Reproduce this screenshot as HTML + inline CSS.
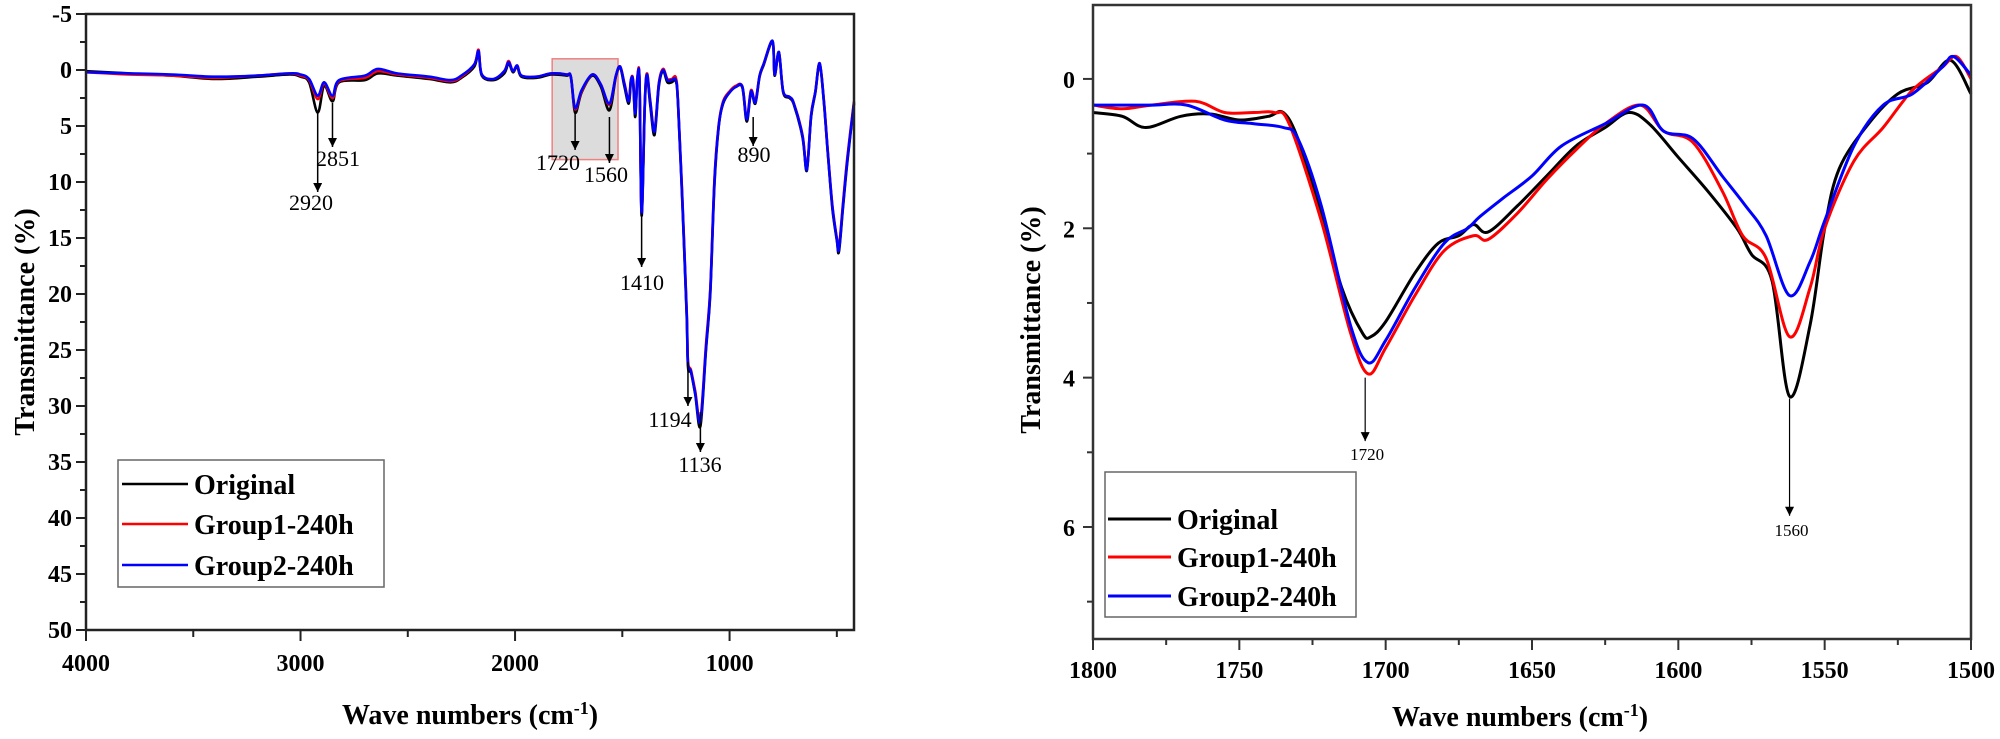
<!DOCTYPE html>
<html><head><meta charset="utf-8"><style>
html,body{margin:0;padding:0;background:#fff;}
svg{display:block;}
text{font-family:"Liberation Serif",serif;}
.tk{font-size:24px;font-weight:bold;}
.ttl{font-size:28px;font-weight:bold;}
.ann{font-size:22px;}
.ann2{font-size:17px;}
.lg{font-size:28px;font-weight:bold;}
</style></head><body>
<svg id="chart" width="2000" height="739" viewBox="0 0 2000 739" xmlns="http://www.w3.org/2000/svg">
<defs><marker id="ah" viewBox="0 0 10 10" refX="10" refY="5" markerWidth="14" markerHeight="9" markerUnits="userSpaceOnUse" orient="auto"><path d="M0,0 L10,5 L0,10 z" fill="#000"/></marker></defs>
<g id="left"></g>
<g id="right"></g>
</svg>
<script>
// ---- Left panel data ----
const leftWave = [4000,3800,3600,3400,3200,3050,3000,2960,2920,2890,2851,2820,2700,2640,2550,2400,2300,2250,2190,2170,2155,2100,2050,2030,2010,1990,1970,1900,1830,1760,1740,1720,1690,1640,1600,1560,1530,1510,1490,1470,1460,1450,1440,1430,1420,1410,1395,1385,1370,1350,1330,1310,1290,1270,1250,1240,1220,1200,1194,1180,1160,1136,1110,1090,1070,1050,1030,1000,970,940,920,900,880,860,840,800,790,770,750,720,700,660,640,620,600,580,560,540,520,500,490,470,450,420];
const leftOriginal = [0.1,0.3,0.5,0.8,0.6,0.4,0.6,1.1,3.8,1.4,2.8,1.1,0.9,0.3,0.5,0.8,1.1,0.7,-0.3,-1.6,0.5,0.9,0.3,-0.6,0.2,-0.3,0.6,0.7,0.4,0.5,0.6,3.8,2.0,0.5,1.5,3.6,0.6,-0.2,1.5,3.0,1.1,1.0,4.2,0.9,1.0,13,3.2,0.5,3.1,5.8,1.5,0.1,1.1,1.1,1.0,3.2,12,22,26.5,27,29,31.8,25,20,10,5,3,2,1.5,1.6,4.6,2.0,3.0,0.6,-0.5,-2.5,0.5,-1.5,2.0,2.5,3.1,6.0,9.0,4.2,2.0,-0.5,3.0,8.0,12.5,15.2,16.2,12,8,3];
const leftGroup1 = [0.2,0.4,0.5,0.7,0.5,0.3,0.5,0.9,2.6,1.2,2.5,1.0,0.7,0.1,0.4,0.7,1.0,0.6,-0.5,-1.8,0.4,0.8,0.1,-0.8,0.1,-0.4,0.5,0.6,0.3,0.4,0.6,3.5,1.9,0.4,1.3,3.1,0.5,-0.3,1.2,2.7,0.9,0.8,3.8,0.7,0.8,12.6,2.9,0.3,2.7,5.4,1.2,-0.1,0.8,0.8,0.7,3.0,11.5,21.5,26,26.8,28.7,31.2,24.5,19.5,9.5,4.8,2.8,1.9,1.4,1.5,4.3,1.8,2.8,0.5,-0.6,-2.6,0.4,-1.6,1.9,2.4,3.0,5.8,8.8,4.0,1.9,-0.6,2.8,7.8,12.2,15.0,15.8,11.6,7.6,2.8];
const leftGroup2 = [0.2,0.3,0.4,0.6,0.5,0.3,0.4,0.8,2.3,1.1,2.3,0.9,0.5,-0.1,0.3,0.6,0.9,0.5,-0.5,-1.7,0.4,0.8,0.1,-0.7,0.1,-0.4,0.5,0.6,0.3,0.4,0.6,3.4,1.8,0.4,1.3,3.0,0.5,-0.3,1.3,2.8,0.9,0.9,3.9,0.8,0.9,12.8,3.0,0.4,2.8,5.5,1.3,0.0,0.9,0.9,0.9,3.0,11.7,21.7,26.2,26.9,28.9,31.4,24.8,19.7,9.7,4.9,2.9,2.0,1.5,1.5,4.4,1.9,2.9,0.5,-0.6,-2.6,0.4,-1.6,1.9,2.4,3.0,5.9,8.9,4.1,1.9,-0.6,2.9,7.9,12.3,15.1,16.0,11.8,7.8,2.9];
const leftYTicks = [-5,0,5,10,15,20,25,30,35,40,45,50];
const leftXTicks = [4000,3000,2000,1000];
const leftPeaks = [2920,2851,1720,1560,1410,1194,1136,890];
// ---- Right panel data ----
const rightWaveO = [1800,1790,1782,1770,1760,1750,1740,1735,1730,1722,1715,1708,1705,1700,1690,1682,1675,1670,1665,1655,1645,1635,1625,1617,1610,1600,1590,1580,1575,1568,1562,1555,1550,1545,1535,1525,1515,1507,1500];
const rightOriginal = [0.45,0.5,0.65,0.5,0.47,0.55,0.5,0.45,0.8,1.8,2.8,3.4,3.45,3.25,2.6,2.2,2.1,1.95,2.05,1.7,1.3,0.9,0.65,0.45,0.6,1.05,1.5,2.0,2.35,2.7,4.25,3.3,2.0,1.2,0.6,0.2,0.05,-0.25,0.2];
const rightWaveG1 = [1800,1790,1780,1765,1755,1745,1738,1733,1722,1712,1706,1700,1690,1680,1670,1665,1655,1645,1635,1625,1613,1605,1595,1585,1578,1570,1562,1555,1550,1540,1530,1520,1510,1505,1500];
const rightGroup1 = [0.35,0.4,0.35,0.3,0.45,0.45,0.45,0.6,1.9,3.4,3.95,3.6,2.9,2.3,2.1,2.15,1.8,1.35,0.95,0.6,0.35,0.7,0.85,1.5,2.1,2.4,3.45,2.8,2.0,1.1,0.65,0.15,-0.15,-0.3,0.0];
const rightWaveG2 = [1800,1790,1780,1768,1755,1745,1735,1730,1722,1712,1706,1700,1690,1680,1672,1668,1660,1650,1640,1625,1612,1605,1595,1585,1577,1570,1562,1555,1550,1540,1530,1520,1510,1506,1500];
const rightGroup2 = [0.35,0.35,0.35,0.35,0.55,0.6,0.65,0.8,1.7,3.3,3.8,3.5,2.8,2.2,2.0,1.85,1.6,1.3,0.9,0.6,0.35,0.7,0.8,1.3,1.7,2.1,2.9,2.45,1.9,0.9,0.35,0.2,-0.15,-0.3,-0.05];
const rightYTicks = [0,2,4,6];
const rightXTicks = [1800,1750,1700,1650,1600,1550,1500];

const NS="http://www.w3.org/2000/svg";
function mk(parent,tag,attrs,txt){const e=document.createElementNS(NS,tag);for(const k in attrs)e.setAttribute(k,attrs[k]);if(txt!==undefined)e.textContent=txt;parent.appendChild(e);return e;}
function smooth(pts){let d="M"+pts[0][0]+","+pts[0][1];for(let i=0;i<pts.length-1;i++){const p0=pts[Math.max(i-1,0)],p1=pts[i],p2=pts[i+1],p3=pts[Math.min(i+2,pts.length-1)];const c1=[p1[0]+(p2[0]-p0[0])/6,p1[1]+(p2[1]-p0[1])/6],c2=[p2[0]-(p3[0]-p1[0])/6,p2[1]-(p3[1]-p1[1])/6];d+=" C"+c1[0].toFixed(1)+","+c1[1].toFixed(1)+" "+c2[0].toFixed(1)+","+c2[1].toFixed(1)+" "+p2[0].toFixed(1)+","+p2[1].toFixed(1);}return d;}

// ===== LEFT =====
(function(){
const g=document.getElementById('left');
const L=86,R=854,T=14,B=630,x0=4000,x1=420,y0=-5,y1=50;
const X=w=>L+(x0-w)/(x0-x1)*(R-L), Y=v=>T+(v-y0)/(y1-y0)*(B-T);
const zb=mk(g,'rect',{x:X(1827),y:Y(-1),width:X(1520)-X(1827),height:Y(8)-Y(-1),fill:'#dcdcdc',stroke:'#f08080','stroke-width':1.5});


const series=[[leftOriginal,'#000','original'],[leftGroup1,'#ff0000','group1-240h'],[leftGroup2,'#0000ff','group2-240h']];
series.forEach(s=>{const pts=leftWave.map((w,i)=>[X(w),Y(s[0][i])]);
const p=mk(g,'path',{d:smooth(pts),fill:'none',stroke:s[1],'stroke-width':2.6,'stroke-linejoin':'round'});

});
const fr=mk(g,'rect',{x:L,y:T,width:R-L,height:B-T,fill:'none',stroke:'#222','stroke-width':2.5});


for(let v=-5;v<=50;v+=2.5){const major=v%5===0;mk(g,'line',{x1:L-(major?10:6),x2:L,y1:Y(v),y2:Y(v),stroke:'#222','stroke-width':2});}
leftYTicks.forEach(v=>{const t=mk(g,'text',{x:L-14,y:Y(v)+8,'text-anchor':'end',class:'tk'},String(v));

});
for(let w=4000;w>=500;w-=500){const major=w%1000===0;mk(g,'line',{x1:X(w),x2:X(w),y1:B,y2:B+(major?11:7),stroke:'#222','stroke-width':2});}
leftXTicks.forEach(w=>{const t=mk(g,'text',{x:X(w),y:B+41,'text-anchor':'middle',class:'tk'},String(w));

});
const xt=mk(g,'text',{x:(L+R)/2,y:724,'text-anchor':'middle',class:'ttl'});xt.innerHTML='Wave numbers (cm<tspan dy="-10" font-size="18">-1</tspan><tspan dy="10">)</tspan>';


const yt=mk(g,'text',{x:0,y:0,'text-anchor':'middle',class:'ttl',transform:'translate(34,322) rotate(-90)'},'Transmittance (%)');


const ann={2920:[113,192,311,210],2851:[103,147,338,166],1720:[113,150,558,170],1560:[117,163,606,182],1410:[213,267,642,290],1194:[362,406,670,427],1136:[412,452,700,472],890:[117,146,754,162]};
leftPeaks.forEach(w=>{const a=ann[w];const x=X(w);
const ln=mk(g,'line',{x1:x,x2:x,y1:a[0],y2:a[1],stroke:'#000','stroke-width':1.5,'marker-end':'url(#ah)'});


const t=mk(g,'text',{x:a[2],y:a[3],'text-anchor':'middle',class:'ann'},String(w));

});
const lb=mk(g,'rect',{x:118,y:460,width:266,height:127,fill:'#fff',stroke:'#666','stroke-width':1.5});


[['Original','#000',484],['Group1-240h','#ff0000',524],['Group2-240h','#0000ff',565]].forEach(e=>{
mk(g,'line',{x1:122,x2:188,y1:e[2],y2:e[2],stroke:e[1],'stroke-width':2.5});
const t=mk(g,'text',{x:194,y:e[2]+10,class:'lg'},e[0]);

});
})();

// ===== RIGHT =====
(function(){
const g=document.getElementById('right');
const L=1093,R=1971,T=5,B=639,x0=1800,x1=1500,y0=-0.99,y1=7.5;
const X=w=>L+(x0-w)/(x0-x1)*(R-L), Y=v=>T+(v-y0)/(y1-y0)*(B-T);
const series=[[rightWaveO,rightOriginal,'#000','original'],[rightWaveG1,rightGroup1,'#ff0000','group1-240h'],[rightWaveG2,rightGroup2,'#0000ff','group2-240h']];
series.forEach(s=>{const pts=s[0].map((w,i)=>[X(w),Y(s[1][i])]);
const p=mk(g,'path',{d:smooth(pts),fill:'none',stroke:s[2],'stroke-width':3,'stroke-linejoin':'round'});

});
const fr=mk(g,'rect',{x:L,y:T,width:R-L,height:B-T,fill:'none',stroke:'#333','stroke-width':2.5});


for(let v=0;v<=7;v+=1){const major=v%2===0;mk(g,'line',{x1:L-(major?10:6),x2:L,y1:Y(v),y2:Y(v),stroke:'#333','stroke-width':2});}
rightYTicks.forEach(v=>{const t=mk(g,'text',{x:L-18,y:Y(v)+9,'text-anchor':'end',class:'tk'},String(v));

});
for(let w=1800;w>=1500;w-=25){const major=w%50===0;mk(g,'line',{x1:X(w),x2:X(w),y1:B,y2:B+(major?11:6),stroke:'#333','stroke-width':2});}
rightXTicks.forEach(w=>{const t=mk(g,'text',{x:X(w),y:B+39,'text-anchor':'middle',class:'tk'},String(w));

});
const xt=mk(g,'text',{x:1520,y:726,'text-anchor':'middle',class:'ttl'});xt.innerHTML='Wave numbers (cm<tspan dy="-10" font-size="18">-1</tspan><tspan dy="10">)</tspan>';


const yt=mk(g,'text',{x:0,y:0,'text-anchor':'middle',class:'ttl',transform:'translate(1040,320) rotate(-90)'},'Transmittance (%)');


[[1707,4.0,4.85,1720,460],[1562,4.28,5.85,1560,536]].forEach(a=>{
const ln=mk(g,'line',{x1:X(a[0]),x2:X(a[0]),y1:Y(a[1]),y2:Y(a[2]),stroke:'#000','stroke-width':1.2,'marker-end':'url(#ah)'});


const t=mk(g,'text',{x:X(a[0])+2,y:a[4],'text-anchor':'middle',class:'ann2'},String(a[3]));

});
const lb=mk(g,'rect',{x:1105,y:472,width:251,height:145,fill:'#fff',stroke:'#666','stroke-width':1.5});


[['Original','#000',519],['Group1-240h','#ff0000',557],['Group2-240h','#0000ff',596]].forEach(e=>{
mk(g,'line',{x1:1108,x2:1171,y1:e[2],y2:e[2],stroke:e[1],'stroke-width':3});
const t=mk(g,'text',{x:1177,y:e[2]+10,class:'lg'},e[0]);

});
})();
</script>
</body></html>
